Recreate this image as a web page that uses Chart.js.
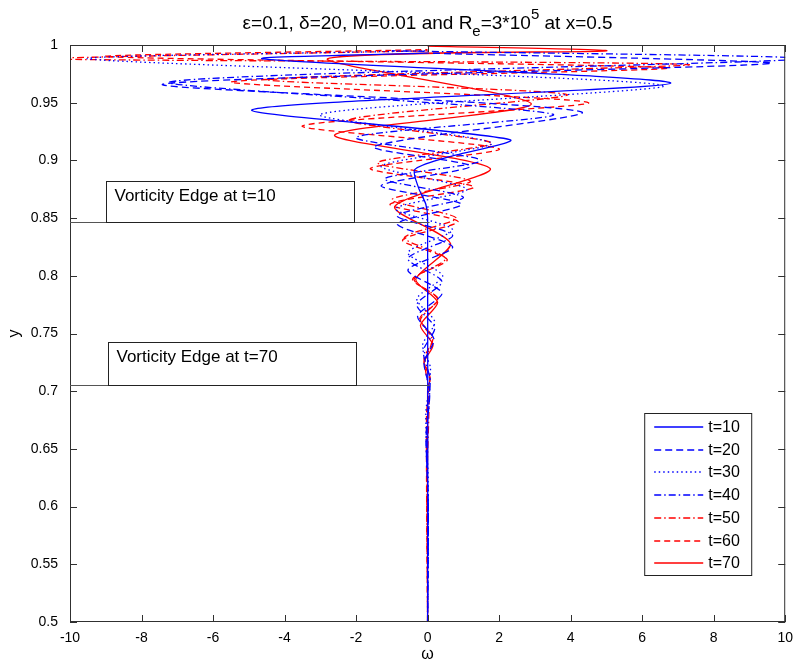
<!DOCTYPE html>
<html>
<head>
<meta charset="utf-8">
<script src="https://cdn.jsdelivr.net/npm/chart.js@4/dist/chart.umd.min.js"></script>
<style>
	html, body { margin: 0; padding: 0; background: #fff; }
	canvas { display: block; }
</style>
</head>
<body>
<canvas id="vortChart" width="801" height="662"></canvas>
<script>
// valores (y, omega) para cada instante
const seriesNames = ["t=10", "t=20", "t=30", "t=40", "t=50", "t=60", "t=70"];

const y10 = [0.50, 0.85, 0.862, 0.876, 0.892, 0.902, 0.918, 0.944, 0.967, 0.988, 0.993];
const w10 = [0, 0, -0.05, -0.25, -0.36, 0.47, 2.3, -4.9, 6.8, -4.6, 0];

const y20 = [0.50, 0.60, 0.66, 0.70, 0.725, 0.745, 0.765, 0.785, 0.805, 0.825, 0.845, 0.862, 0.878, 0.895, 0.912, 0.942, 0.966, 0.984, 0.993];
const w20 = [0, 0.02, -0.04, 0.06, -0.1, 0.18, -0.28, 0.4, -0.55, 0.7, -0.85, 0.95, -1.3, 1.2, -1.5, 4.3, -7.4, 9.6, 0];

const y30 = [0.50, 0.62, 0.68, 0.72, 0.74, 0.76, 0.78, 0.80, 0.82, 0.84, 0.858, 0.875, 0.895, 0.915, 0.94, 0.965, 0.988, 0.995];
const w30 = [0, 0.02, -0.05, 0.08, -0.14, 0.2, -0.3, 0.42, -0.55, 0.7, -0.9, 1.1, -1.3, 1.8, -3.0, 6.6, -9.5, 0];

const y40 = [0.50, 0.60, 0.66, 0.71, 0.735, 0.755, 0.775, 0.795, 0.815, 0.835, 0.852, 0.868, 0.884, 0.90, 0.92, 0.94, 0.968, 0.988, 0.995];
const w40 = [0, 0.02, -0.04, 0.07, -0.12, 0.2, -0.3, 0.4, -0.55, 0.7, -0.85, 1.0, -1.2, 1.5, -2.0, 3.5, -7.2, 10.5, -1];

const y50 = [0.50, 0.62, 0.70, 0.725, 0.745, 0.762, 0.78, 0.797, 0.815, 0.833, 0.85, 0.866, 0.882, 0.898, 0.915, 0.935, 0.957, 0.97, 0.983, 0.988, 0.995];
const w50 = [0, -0.02, 0.04, -0.08, 0.13, -0.2, 0.28, -0.38, 0.5, -0.65, 0.8, -1.0, 1.2, -1.4, 1.8, -2.2, 3.9, -4.5, 7.3, -10.5, 0];

const y60 = [0.50, 0.68, 0.71, 0.728, 0.746, 0.763, 0.78, 0.797, 0.814, 0.831, 0.847, 0.862, 0.877, 0.893, 0.91, 0.93, 0.95, 0.968, 0.98, 0.99, 0.996];
const w60 = [0, -0.03, 0.06, -0.1, 0.15, -0.22, 0.3, -0.42, 0.55, -0.7, 0.85, -1.05, 1.3, -1.6, 2.0, -3.5, 4.5, -5.5, 6.7, -9, 0];

const y70 = [0.50, 0.70, 0.712, 0.725, 0.74, 0.757, 0.777, 0.797, 0.828, 0.86, 0.893, 0.922, 0.949, 0.988, 0.995, 0.999];
const w70 = [0, 0, 0.07, -0.1, 0.15, -0.2, 0.28, -0.33, 0.64, -0.92, 1.75, -2.6, 2.9, -2.8, 5, 0];

const allY = [y10, y20, y30, y40, y50, y60, y70];
const allW = [w10, w20, w30, w40, w50, w60, w70];
const colores = ["#0000ff", "#0000ff", "#0000ff", "#0000ff", "#ff0000", "#ff0000", "#ff0000"];
const trazos = [[], [7, 4], [1.5, 3], [7, 3, 1.5, 3], [7, 3, 1.5, 3], [6, 4], []];

const xTicks = [-10, -8, -6, -4, -2, 0, 2, 4, 6, 8, 10];
const yTicks = [0.5, 0.55, 0.6, 0.65, 0.7, 0.75, 0.8, 0.85, 0.9, 0.95, 1];

const edges = [
	{ text: "Vorticity Edge at t=10", y: 0.847, box: [-9.0, -2.06, 0.882] },
	{ text: "Vorticity Edge at t=70", y: 0.705, box: [-8.94, -2.0, 0.7426] }
];

const FONT = "'Liberation Sans', Arial, sans-serif";

const datasets = seriesNames.map((name, i) => ({
	label: name,
	data: allY[i].map((y, k) => ({ x: allW[i][k], y: y })),
	borderColor: colores[i],
	borderWidth: 1.3,
	borderDash: trazos[i],
	pointRadius: 0,
	fill: false,
	tension: 0.25
}));

// dibuja titulo, marco, ticks hacia adentro, cajas de texto y leyenda
const matlabLook = {
	id: "matlabLook",
	afterDraw(chart) {
		const ctx = chart.ctx;
		const a = chart.chartArea;
		const sx = chart.scales.x, sy = chart.scales.y;
		ctx.save();
		ctx.setLineDash([]);

		// marco y ticks
		ctx.strokeStyle = "#303030";
		ctx.lineWidth = 1;
		ctx.strokeRect(a.left + 0.5, a.top + 0.5, a.right - a.left - 1, a.bottom - a.top - 1);
		ctx.beginPath();
		xTicks.forEach(v => {
			const px = Math.round(sx.getPixelForValue(v)) + 0.5;
			ctx.moveTo(px, a.bottom); ctx.lineTo(px, a.bottom - 7);
			ctx.moveTo(px, a.top); ctx.lineTo(px, a.top + 7);
		});
		yTicks.forEach(v => {
			const py = Math.round(sy.getPixelForValue(v)) + 0.5;
			ctx.moveTo(a.left, py); ctx.lineTo(a.left + 7, py);
			ctx.moveTo(a.right, py); ctx.lineTo(a.right - 7, py);
		});
		ctx.stroke();

		// lineas y cajas de "Vorticity Edge"
		edges.forEach(e => {
			const ly = Math.round(sy.getPixelForValue(e.y)) + 0.5;
			ctx.strokeStyle = "#555";
			ctx.beginPath();
			ctx.moveTo(a.left, ly);
			ctx.lineTo(sx.getPixelForValue(0) + 2, ly);
			ctx.stroke();
			const bx1 = Math.round(sx.getPixelForValue(e.box[0])) + 0.5;
			const bx2 = Math.round(sx.getPixelForValue(e.box[1])) + 0.5;
			const by1 = Math.round(sy.getPixelForValue(e.box[2])) + 0.5;
			ctx.strokeStyle = "#222";
			ctx.strokeRect(bx1, by1, bx2 - bx1, ly - by1);
			ctx.fillStyle = "#000";
			ctx.font = "17px " + FONT;
			ctx.textBaseline = "alphabetic";
			ctx.textAlign = "left";
			ctx.fillText(e.text, bx1 + 8, by1 + 19);
		});

		// leyenda
		const lw = 107, lh = 162;
		const lx = a.right - 34 - lw, ly0 = a.bottom - 47 - lh;
		ctx.fillStyle = "#fff";
		ctx.fillRect(lx, ly0, lw, lh);
		ctx.strokeStyle = "#222";
		ctx.strokeRect(lx + 0.5, ly0 + 0.5, lw, lh);
		seriesNames.forEach((name, i) => {
			const ry = Math.round(ly0 + 14 + i * 22.7);
			ctx.strokeStyle = colores[i];
			ctx.lineWidth = 1.5;
			ctx.setLineDash(trazos[i]);
			ctx.beginPath();
			ctx.moveTo(lx + 10, ry);
			ctx.lineTo(lx + 59, ry);
			ctx.stroke();
			ctx.setLineDash([]);
			ctx.lineWidth = 1;
			ctx.fillStyle = "#000";
			ctx.font = "16px " + FONT;
			ctx.textAlign = "left";
			ctx.textBaseline = "middle";
			ctx.fillText(name, lx + 64, ry + 1);
		});

		// titulos de ejes
		ctx.fillStyle = "#000";
		ctx.font = "16px " + FONT;
		ctx.textAlign = "center";
		ctx.textBaseline = "middle";
		ctx.fillText("\u03c9", (a.left + a.right) / 2, 655);
		ctx.save();
		ctx.translate(15, (a.top + a.bottom) / 2);
		ctx.rotate(-Math.PI / 2);
		ctx.fillText("y", 0, 0);
		ctx.restore();

		// titulo con subindice y superindice
		const partes = [
			{ t: "\u03b5=0.1, \u03b4=20, M=0.01 and R", s: 19, dy: 0 },
			{ t: "e", s: 15, dy: 7 },
			{ t: "=3*10", s: 19, dy: 0 },
			{ t: "5", s: 15, dy: -10 },
			{ t: " at x=0.5", s: 19, dy: 0 }
		];
		let total = 0;
		partes.forEach(p => { ctx.font = p.s + "px " + FONT; p.w = ctx.measureText(p.t).width; total += p.w; });
		let cx = (a.left + a.right) / 2 - total / 2;
		ctx.textAlign = "left";
		ctx.textBaseline = "alphabetic";
		partes.forEach(p => {
			ctx.font = p.s + "px " + FONT;
			ctx.fillText(p.t, cx, 29 + p.dy);
			cx += p.w;
		});
		ctx.restore();
	}
};

new Chart(document.getElementById("vortChart").getContext("2d"), {
	type: "line",
	data: { datasets: datasets },
	options: {
		responsive: false,
		animation: false,
		layout: { padding: { top: 45, right: 11, left: 0, bottom: 0 } },
		plugins: {
			legend: { display: false },
			title: { display: false },
			tooltip: { enabled: false }
		},
		scales: {
			x: {
				type: "linear",
				min: -10,
				max: 10,
				afterFit: s => { s.height = 40; },
				afterBuildTicks: s => { s.ticks = xTicks.map(v => ({ value: v })); },
				grid: { display: false, drawTicks: false },
				border: { display: false },
				ticks: { padding: 8, color: "#000", font: { family: FONT, size: 14 }, maxRotation: 0 }
			},
			y: {
				type: "linear",
				min: 0.5,
				max: 1,
				afterFit: s => { s.width = 70; },
				afterBuildTicks: s => { s.ticks = yTicks.map(v => ({ value: v })); },
				grid: { display: false, drawTicks: false },
				border: { display: false },
				ticks: {
					padding: 12,
					color: "#000",
					font: { family: FONT, size: 14 },
					callback: v => String(Math.round(v * 100) / 100)
				}
			}
		}
	},
	plugins: [matlabLook]
});
</script>
</body>
</html>
